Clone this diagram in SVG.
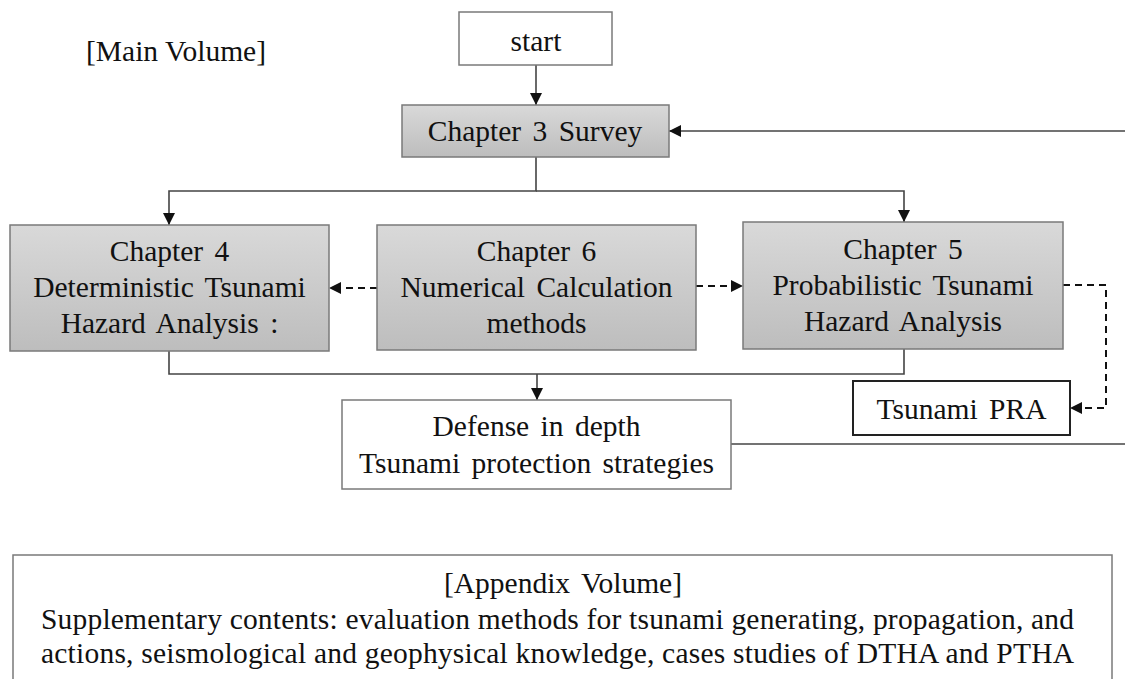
<svg xmlns="http://www.w3.org/2000/svg" width="1125" height="679" viewBox="0 0 1125 679">
  <defs>
    <linearGradient id="chapterFill" x1="0" y1="0" x2="0" y2="1">
      <stop offset="0" stop-color="#d9d9d9"/>
      <stop offset="1" stop-color="#bdbdbd"/>
    </linearGradient>
    <marker id="arrow" viewBox="0 0 10 10" refX="10" refY="5" markerWidth="12" markerHeight="12" markerUnits="userSpaceOnUse" orient="auto">
      <path d="M0,0 L10,5 L0,10 Z" fill="#111"/>
    </marker>
    <style>
      text { font-family: "Liberation Serif", "Times New Roman", serif; font-size: 29.5px; fill: #111; }
      .mid { text-anchor: middle; word-spacing: 4px; }
      .chapter { fill: url(#chapterFill); stroke: #7a7a7a; stroke-width: 1.5; }
      .plain { fill: #fff; stroke: #7a7a7a; stroke-width: 1.5; }
      .bold { fill: #fff; stroke: #222; stroke-width: 2; }
      .link { fill: none; stroke: #444; stroke-width: 1.6; }
      .dash { fill: none; stroke: #111; stroke-width: 2; stroke-dasharray: 7 5; }
    </style>
  </defs>

  <rect width="1125" height="679" fill="#fff"/>

  <text x="86" y="61">[Main Volume]</text>

  <!-- connectors -->
  <g id="connectors">
    <line class="link" x1="536" y1="65" x2="536" y2="105" marker-end="url(#arrow)"/>
    <line class="link" x1="1125" y1="131" x2="669" y2="131" marker-end="url(#arrow)"/>
    <polyline class="link" points="536,157 536,191 169,191 169,225" marker-end="url(#arrow)"/>
    <polyline class="link" points="536,191 904,191 904,222" marker-end="url(#arrow)"/>
    <line class="dash" x1="377" y1="288" x2="329" y2="288" marker-end="url(#arrow)"/>
    <line class="dash" x1="696" y1="286" x2="743" y2="286" marker-end="url(#arrow)"/>
    <polyline class="dash" points="1063,285 1106,285 1106,408 1070,408" marker-end="url(#arrow)"/>
    <polyline class="link" points="169,351 169,374 904,374 904,349"/>
    <line class="link" x1="537" y1="374" x2="537" y2="400" marker-end="url(#arrow)"/>
    <line class="link" x1="731" y1="444" x2="1125" y2="444"/>
  </g>

  <g id="start">
    <rect class="plain" x="459" y="12" width="153" height="53"/>
    <text class="mid" x="536" y="51">start</text>
  </g>

  <g id="chapter3">
    <rect class="chapter" x="402" y="105" width="267" height="52"/>
    <text class="mid" x="535" y="141">Chapter 3 Survey</text>
  </g>

  <g id="chapter4">
    <rect class="chapter" x="10" y="225" width="319" height="126"/>
    <text class="mid" x="169.5" y="261">Chapter 4</text>
    <text class="mid" x="169.5" y="297">Deterministic Tsunami</text>
    <text class="mid" x="169.5" y="333">Hazard Analysis :</text>
  </g>

  <g id="chapter6">
    <rect class="chapter" x="377" y="225" width="319" height="125"/>
    <text class="mid" x="536.5" y="261">Chapter 6</text>
    <text class="mid" x="536.5" y="297">Numerical Calculation</text>
    <text class="mid" x="536.5" y="333">methods</text>
  </g>

  <g id="chapter5">
    <rect class="chapter" x="743" y="222" width="320" height="127"/>
    <text class="mid" x="903" y="259">Chapter 5</text>
    <text class="mid" x="903" y="295">Probabilistic Tsunami</text>
    <text class="mid" x="903" y="331">Hazard Analysis</text>
  </g>

  <g id="tsunami-pra">
    <rect class="bold" x="853" y="381" width="217" height="54"/>
    <text class="mid" x="961.5" y="419">Tsunami PRA</text>
  </g>

  <g id="defense">
    <rect class="plain" x="342" y="400" width="389" height="89"/>
    <text class="mid" x="536.5" y="436">Defense in depth</text>
    <text class="mid" x="536.5" y="473">Tsunami protection strategies</text>
  </g>

  <g id="appendix">
    <rect class="plain" x="13" y="555" width="1099" height="140"/>
    <text class="mid" x="563" y="593">[Appendix Volume]</text>
    <text x="41" y="629" textLength="1033" lengthAdjust="spacing">Supplementary contents: evaluation methods for tsunami generating, propagation, and</text>
    <text x="41" y="663" textLength="1033" lengthAdjust="spacing">actions, seismological and geophysical knowledge, cases studies of DTHA and PTHA</text>
  </g>
</svg>
